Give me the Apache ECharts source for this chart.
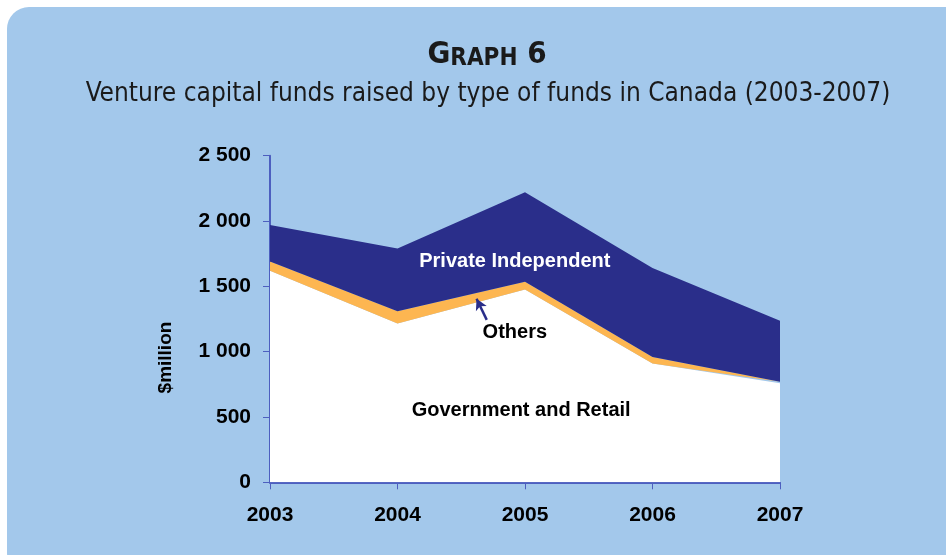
<!DOCTYPE html>
<html>
<head>
<meta charset="utf-8">
<script src="https://cdn.jsdelivr.net/npm/echarts@6/dist/echarts.min.js"></script>
<style>
html,body{margin:0;padding:0;background:#ffffff;}
#chart{width:946px;height:555px;}
</style>
</head>
<body>
<div id="chart"></div>
<script>
// ---- data ----
const years = ['2003', '2004', '2005', '2006', '2007'];
const governmentRetail = [1620, 1215, 1475, 910, 758];
const others = [70, 95, 60, 50, 12];
const privateIndependent = [280, 480, 685, 680, 467];
const yTicks = [0, 500, 1000, 1500, 2000, 2500];
const seriesNames = ['Government and Retail', 'Others', 'Private Independent'];
const yAxisTitle = '$million';

// annotation anchor points (x as fractional category index, y in $million)
const labelPI = [1.92, 1694];
const labelOthers = [1.92, 1143];
const labelGov = [1.97, 553];
const arrowFrom = [1.70, 1243];
const arrowTo = [1.62, 1405];
const yNamePos = [-0.82, 955];

const fmtSpace = (v) => String(v).replace(/\B(?=(\d{3})+(?!\d))/g, ' ');

const chart = echarts.init(document.getElementById('chart'));
const axisColor = '#4d5fbf';
const labelFont = 'Liberation Sans, Arial, sans-serif';
const titleFont = "'Liberation Sans Narrow', 'DejaVu Sans Condensed', 'Open Sans', sans-serif";
const annStyle = { fontSize: 20, fontWeight: 'bold', fontFamily: labelFont, color: '#000', position: 'inside' };

const option = {
  animation: false,
  graphic: [
    { id: 'bg', type: 'rect', z: -10, shape: { x: 7, y: 7, width: 980, height: 560, r: [22, 0, 0, 14] }, style: { fill: '#a3c8eb' } },
    { id: 'title', type: 'text', z: 10, x: 487, y: 55, style: {
        text: '{a|G}{b|RAPH}{a| 6}', textAlign: 'center', textVerticalAlign: 'middle',
        rich: {
          a: { fontSize: 31, fontWeight: 'bold', fontFamily: titleFont, fill: '#1a1a1a' },
          b: { fontSize: 24, fontWeight: 'bold', fontFamily: titleFont, fill: '#1a1a1a', verticalAlign: 'bottom' }
        }
      } },
    { id: 'subtitle', type: 'text', z: 10, x: 488, y: 94, style: {
        text: 'Venture capital funds raised by type of funds in Canada (2003-2007)',
        textAlign: 'center', textVerticalAlign: 'middle',
        font: '26px ' + titleFont, fill: '#1a1a1a'
      } }
  ],
  grid: { left: 270, top: 155.7, width: 510, height: 326.6, containLabel: false },
  xAxis: [{
    type: 'category', data: years, boundaryGap: false,
    axisLine: { show: true, lineStyle: { color: axisColor, width: 2 } },
    axisTick: { show: true, length: 7, alignWithLabel: true, lineStyle: { color: axisColor, width: 1 } },
    splitLine: { show: false },
    axisLabel: { margin: 22, fontSize: 21, fontWeight: 'bold', fontFamily: labelFont, color: '#000' }
  }, {
    type: 'value', min: 0, max: years.length - 1, show: false, position: 'bottom'
  }],
  yAxis: {
    type: 'value', min: yTicks[0], max: yTicks[yTicks.length - 1], interval: 500,
    axisLine: { show: true, lineStyle: { color: axisColor, width: 2 } },
    axisTick: { show: true, length: 7, lineStyle: { color: axisColor, width: 1 } },
    splitLine: { show: false },
    axisLabel: { margin: 19, fontSize: 21, fontWeight: 'bold', fontFamily: labelFont, color: '#000',
      formatter: fmtSpace }
  },
  series: [
    { name: seriesNames[0], type: 'line', stack: 'total', data: governmentRetail,
      showSymbol: false, lineStyle: { width: 0 }, areaStyle: { color: '#ffffff', opacity: 1 }, z: 1 },
    { name: seriesNames[1], type: 'line', stack: 'total', data: others,
      showSymbol: false, lineStyle: { width: 0 }, areaStyle: { color: '#fdb651', opacity: 1 }, z: 2 },
    { name: seriesNames[2], type: 'line', stack: 'total', data: privateIndependent,
      showSymbol: false, lineStyle: { width: 0 }, areaStyle: { color: '#2a2e8a', opacity: 1 }, z: 3 },
    { name: 'annotations', type: 'scatter', xAxisIndex: 1, yAxisIndex: 0, data: [], z: 5,
      markPoint: { symbolSize: 0, silent: true, data: [
        { coord: labelPI, label: Object.assign({ show: true, formatter: 'Private Independent' }, annStyle, { color: '#ffffff' }) },
        { coord: labelOthers, label: Object.assign({ show: true, formatter: 'Others' }, annStyle) },
        { coord: labelGov, label: Object.assign({ show: true, formatter: 'Government and Retail' }, annStyle) }
      ] },
      markLine: { silent: true, symbol: ['none', 'arrow'], symbolSize: [9, 11],
        lineStyle: { color: '#2a2e8a', width: 2.5, type: 'solid' }, label: { show: false },
        data: [[{ coord: arrowFrom }, { coord: arrowTo }]] } }
  ]
};
chart.setOption(option);

// y-axis title placed through the axes' own scales
const namePx = chart.convertToPixel({ xAxisIndex: 1, yAxisIndex: 0 }, yNamePos);
chart.setOption({
  graphic: [{ id: 'yname', type: 'text', z: 10, x: namePx[0], y: namePx[1], rotation: Math.PI / 2,
    style: { text: yAxisTitle, textAlign: 'center', textVerticalAlign: 'middle',
      font: 'bold 19px ' + labelFont, fill: '#000' } }]
});
</script>
</body>
</html>
